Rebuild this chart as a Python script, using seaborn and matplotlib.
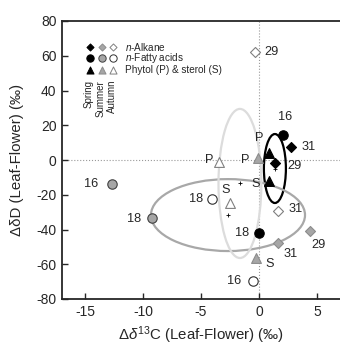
import matplotlib
matplotlib.use("Agg")
import matplotlib.pyplot as plt
from matplotlib.patches import Ellipse
import pandas as pd
import seaborn as sns

sns.set_style("ticks")
plt.rcParams['font.family'] = ['Liberation Sans', 'DejaVu Sans']
plt.rcParams['mathtext.fontset'] = 'custom'
plt.rcParams['mathtext.rm'] = 'Liberation Sans'
plt.rcParams['mathtext.it'] = 'Liberation Sans:italic'

# data
season = ['Autumn', 'Spring', 'Spring', 'Spring', 'Spring', 'Spring', 'Summer', 'Autumn', 'Autumn',
          'Autumn', 'Autumn', 'Spring', 'Summer', 'Summer', 'Summer', 'Autumn', 'Summer', 'Summer']
cls = ['alk', 'fa', 'alk', 'alk', 'tri', 'tri', 'tri', 'tri', 'tri',
       'fa', 'alk', 'fa', 'alk', 'alk', 'tri', 'fa', 'fa', 'fa']
label = ['29', '16', '31', '29', 'P', 'S', 'P', 'P', 'S',
         '18', '31', '18', '29', '31', 'S', '16', '16', '18']
d13C = [-0.34, 2.1, 2.73, 1.35, 0.86, 0.86, -0.06, -3.42, -2.53,
        -4.05, 1.67, 0.0, 4.37, 1.67, -0.23, -0.49, -12.65, -9.2]
dD = [62, 14.5, 7.3, -1.5, 4.2, -11.9, 1.3, -1.0, -24.6,
      -22.6, -29.2, -41.8, -40.9, -47.6, -56.6, -69.5, -14, -33.6]

# ellipse centre / width / height per season
ell_season = ['Spring', 'Summer', 'Autumn']
ell_x = [1.38, -2.67, -1.64]
ell_y = [-4.9, -31.7, -13.5]
ell_w = [1.9, 13.3, 3.7]
ell_h = [39.7, 41.4, 85.8]

df = pd.DataFrame({'season': season, 'cls': cls, 'label': label, 'd13C': d13C, 'dD': dD})

# label offsets in pixels (style only)
offs = [(17, 0), (2, 18), (18, 0), (20, -3), (-10, 15), (-13, -3), (-13, -2), (-10, 2), (-4, 13),
        (-16, 0), (17, 2), (-16.5, 0), (9, -14), (12, -11), (13, -6), (-19, 0), (-21, 0), (-18, -1)]

face = {'Spring': 'black', 'Summer': '#a6a6a6', 'Autumn': 'white'}
edge = {'Spring': {'alk': 'black', 'fa': 'black', 'tri': 'black'},
        'Summer': {'alk': '#8c8c8c', 'fa': '#404040', 'tri': '#8c8c8c'},
        'Autumn': {'alk': '#808080', 'fa': '#303030', 'tri': '#808080'}}
mk = {'alk': 'D', 'fa': 'o', 'tri': '^'}
sz = {'alk': 26, 'fa': 46, 'tri': 50}
ell_col = {'Spring': 'black', 'Summer': '#a8a8a8', 'Autumn': '#dcdcdc'}

fig = plt.figure(figsize=(3.4, 3.46), dpi=100)
ax = fig.add_axes([62/340, 1-299/346, 278/340, 278/346])

ax.axhline(0, color='#999999', lw=0.8, ls=':', zorder=0)
ax.axvline(0, color='#999999', lw=0.8, ls=':', zorder=0)

for s, x, y, w, h in zip(ell_season, ell_x, ell_y, ell_w, ell_h):
    ax.add_patch(Ellipse((x, y), w, h, fill=False, ec=ell_col[s], lw=1.6, zorder=1))
    ax.plot(x, y, marker='+', color='black', ms=3, mew=0.6, zorder=1)

for (s, c), sub in df.groupby(['season', 'cls']):
    sns.scatterplot(data=sub, x='d13C', y='dD', marker=mk[c], color=face[s],
                    edgecolor=edge[s][c], linewidth=0.8, s=sz[c], ax=ax, zorder=3, legend=False)

for i, row in df.iterrows():
    ax.annotate(row['label'], (row['d13C'], row['dD']), xytext=offs[i], textcoords='offset pixels',
                ha='center', va='center', fontsize=9.2)

# legend drawn by hand
lx = [0.101, 0.143, 0.185]
ly = {'alk': 0.908, 'fa': 0.866, 'tri': 0.824}
lsz = {'alk': 13, 'fa': 28, 'tri': 26}
for j, s in enumerate(['Spring', 'Summer', 'Autumn']):
    for c in ['alk', 'fa', 'tri']:
        ax.scatter(lx[j], ly[c], marker=mk[c], s=lsz[c], c=face[s], edgecolors=edge[s][c],
                   linewidths=0.7, transform=ax.transAxes, clip_on=False, zorder=4)
    ax.text(lx[j] - 0.006, 0.788, s, rotation=90, ha='center', va='top', fontsize=7,
            transform=ax.transAxes)
ax.text(0.227, ly['alk'], r'$\it{n}$-Alkane', va='center', fontsize=7.2, transform=ax.transAxes)
ax.text(0.227, ly['fa'], r'$\it{n}$-Fatty acids', va='center', fontsize=7.2, transform=ax.transAxes)
ax.text(0.227, ly['tri'], 'Phytol (P) & sterol (S)', va='center', fontsize=7.2, transform=ax.transAxes)

ax.set_xlim(-17, 7)
ax.set_ylim(-80, 80)
ax.set_xticks([-15, -10, -5, 0, 5])
ax.set_yticks([-80, -60, -40, -20, 0, 20, 40, 60, 80])
ax.set_yticklabels(['-80', '-60', '-40', '-20', '0', '20', '40', '60', '80'])
ax.set_xticklabels(['-15', '-10', '-5', '0', '5'])
ax.tick_params(direction='in', length=4, width=1, labelsize=10, pad=4)
ax.spines['right'].set_visible(False)
for sp in ['left', 'bottom', 'top']:
    ax.spines[sp].set_linewidth(1.3)
ax.set_xlabel(r'Δ$\delta^{13}$C (Leaf-Flower) (‰)', fontsize=10.8, labelpad=4)
ax.set_ylabel('ΔδD (Leaf-Flower) (‰)', fontsize=10.8, labelpad=9)

fig.savefig('out.png', dpi=100)
